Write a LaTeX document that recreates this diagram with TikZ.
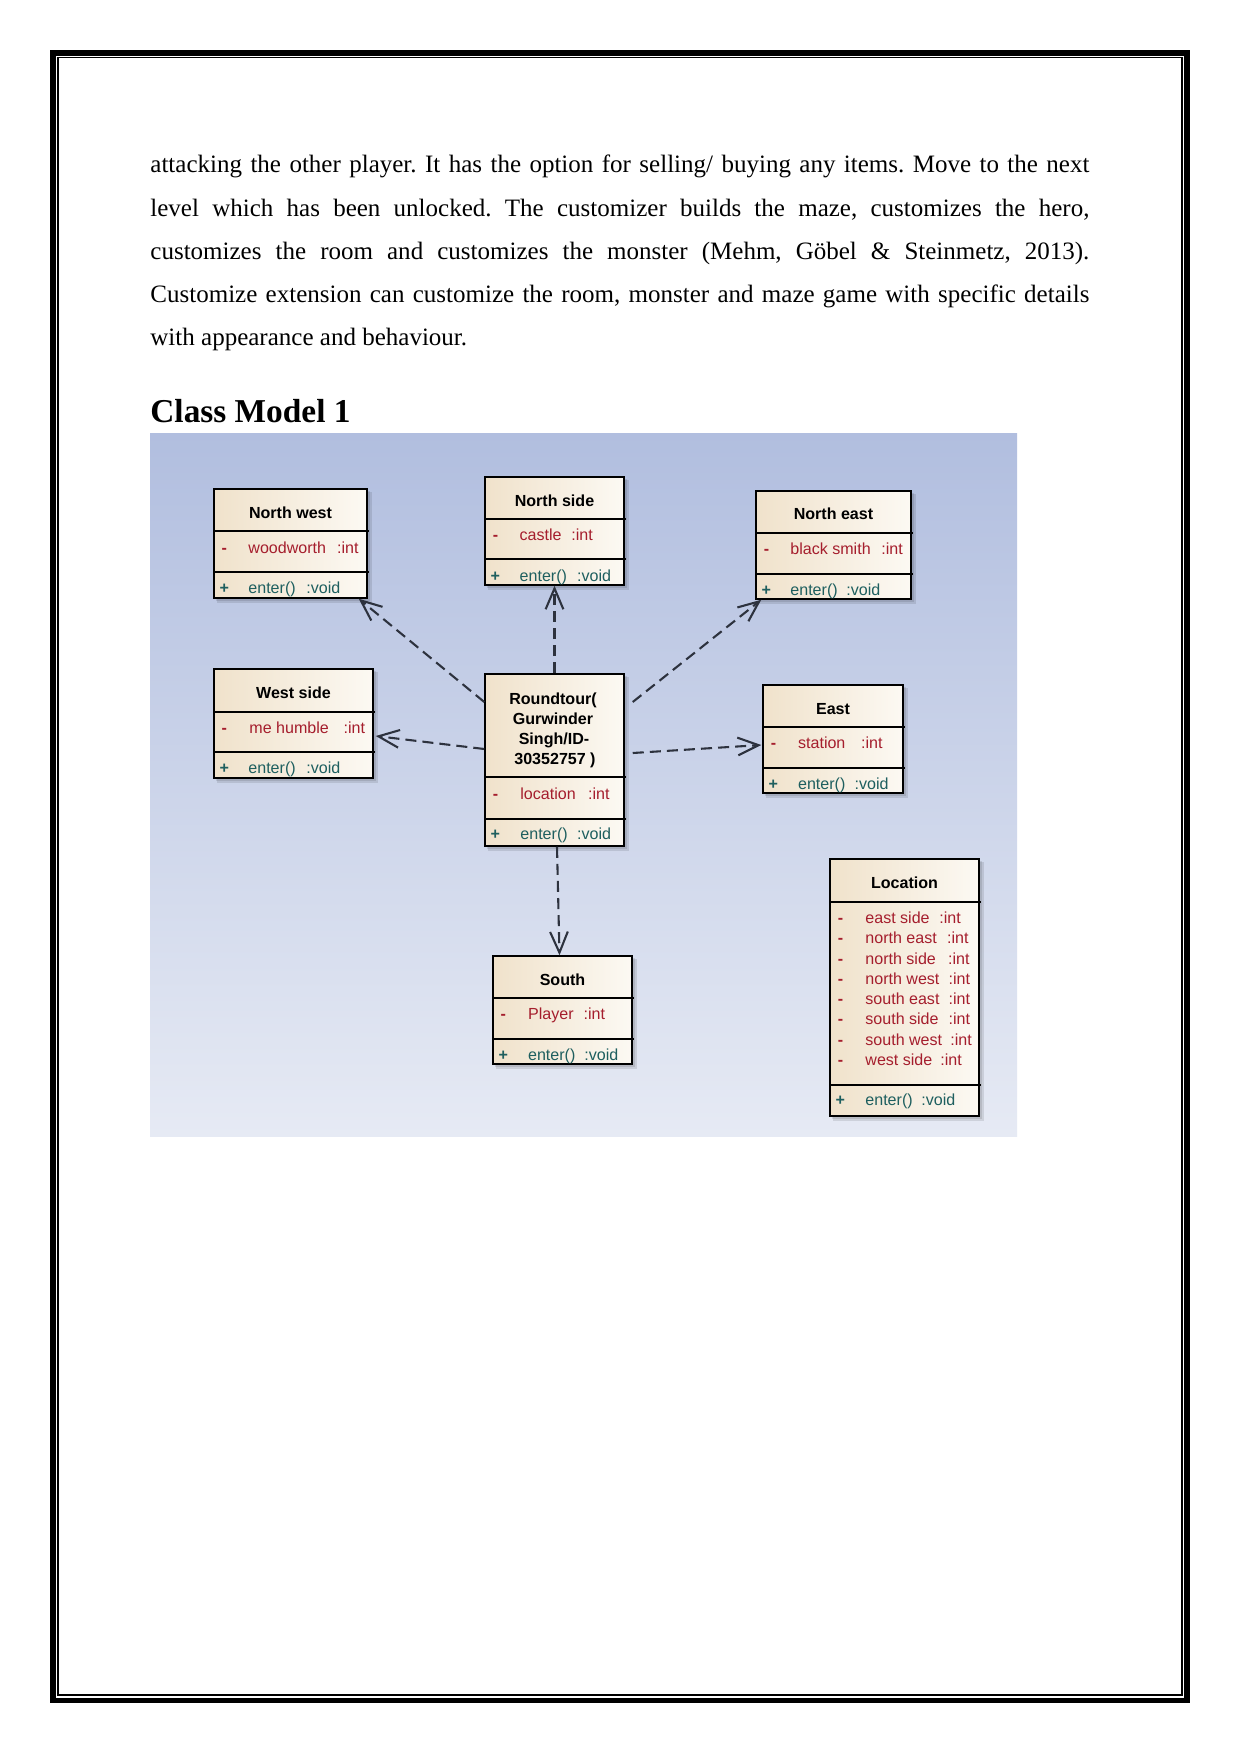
\documentclass[tikz,border=0pt]{standalone}
\usepackage{fontspec}
\setmainfont{Liberation Serif}
\newfontfamily\umlfont{Liberation Sans}
\usetikzlibrary{arrows.meta,calc,fit}
\frenchspacing
\newdimen\pxu \pxu=0.4797pt
\definecolor{bgtop}{RGB}{177,190,223}
\definecolor{bgbot}{RGB}{230,234,244}
\definecolor{boxL}{RGB}{240,226,203}
\definecolor{boxR}{RGB}{252,249,243}
\definecolor{attrred}{RGB}{165,30,45}
\definecolor{opteal}{RGB}{30,95,95}
\definecolor{conn}{RGB}{45,50,62}
\tikzset{
  cls/.style={draw=black, line width=0.7pt, left color=boxL, right color=boxR, inner sep=0pt},
  divider/.style={draw=black, line width=0.7pt},
  boxshadow/.style={fill=black, opacity=0.10},
  hdr/.style={font=\umlfont\bfseries\fontsize{7.7}{9.5}\selectfont, anchor=base, inner sep=0pt},
  rowtxt/.style={font=\umlfont\fontsize{7.7}{9.5}\selectfont, anchor=base west, inner sep=0pt},
  para/.style={font=\fontsize{12}{14}\selectfont, anchor=base west, inner sep=0pt},
  dep/.style={draw=conn, line width=1pt, dash pattern=on 5.3pt off 2.9pt,
    -{Straight Barb[length=10pt,width=8.5pt,line width=1pt]}},
}
% #1 name, #2 x0, #3 baseline, #4 colour, #5 marker, #6 name x, #7 text, #8 type x, #9 type
\newcommand\umlrow[9]{%
  \node[rowtxt, text=#4] (#1) at (#2,#3) {\rlap{\makebox[6\pxu][c]{\bfseries #5}}\hspace*{\dimexpr #6\pxu-#2\pxu\relax}\rlap{#7}\hspace*{\dimexpr #8\pxu-#6\pxu\relax}#9};}
% #1 name, #2 x1, #3 y1, #4 x2, #5 y2
\newcommand\classbox[5]{%
  \fill[boxshadow] (#2+2,#3+2) rectangle (#4+3,#5+3);
  \fill[boxshadow] (#2+3,#3+3) rectangle (#4+5,#5+5);
  \node[cls, fit={(#2,#3) (#4,#5)}] (#1) {};}
\newcommand\divline[3]{\draw[divider] (#1,#3) -- (#2+2,#3);}
\begin{document}
\begin{tikzpicture}[x=0.4797pt, y=-0.4797pt]
\useasboundingbox (0,0) rectangle (1241,1754);
\fill[white] (0,0) rectangle (1241,1754);
% page border
\draw[line width=2.73pt] (52.8,52.8) rectangle (1187,1700.5);
\draw[line width=0.62pt] (58,57.3) rectangle (1182,1695);
% paragraph
\node[para] (p1) at (150,173) {\makebox[939\pxu][s]{attacking the other player. It has the option for selling/ buying any items. Move to the next}};
\node[para] (p2) at (150,216) {\makebox[939\pxu][s]{level which has been unlocked. The customizer builds the maze, customizes the hero,}};
\node[para] (p3) at (150,259) {\makebox[939\pxu][s]{customizes the room and customizes the monster (Mehm, Göbel \& Steinmetz, 2013).}};
\node[para] (p4) at (150,302) {\makebox[939\pxu][s]{Customize extension can customize the room, monster and maze game with specific details}};
\node[para] (p5) at (150,345) {with appearance and behaviour.};
\node[para, font=\bfseries\fontsize{16}{19}\selectfont] (title) at (150,422) {Class Model 1};
% diagram background
\shade[top color=bgtop, bottom color=bgbot] (150,433) rectangle (1017,1136);

% North west
\classbox{nw}{214}{489}{367}{598}
\divline{214}{367}{531}\divline{214}{367}{572}
\node[hdr] (nwh) at (290.5,518) {North west};
\umlrow{nwa}{221}{553}{attrred}{-}{248}{woodworth}{336.7}{:int}
\umlrow{nwo}{221}{593}{opteal}{+}{248}{enter()}{306}{:void}

% North side
\classbox{ns}{485}{477}{624}{585}
\divline{485}{624}{519}\divline{485}{624}{559}
\node[hdr] (nsh) at (554.5,506) {North side};
\umlrow{nsa}{492}{540}{attrred}{-}{519.3}{castle}{571}{:int}
\umlrow{nso}{492}{581}{opteal}{+}{519.3}{enter()}{576.7}{:void}

% North east
\classbox{ne}{756}{491}{911}{599}
\divline{756}{911}{533}\divline{756}{911}{574}
\node[hdr] (neh) at (833.5,519) {North east};
\umlrow{nea}{763}{554}{attrred}{-}{790}{black smith}{881}{:int}
\umlrow{neo}{763}{595}{opteal}{+}{790}{enter()}{846}{:void}

% West side
\classbox{ws}{214}{669}{373}{778}
\divline{214}{373}{712}\divline{214}{373}{752}
\node[hdr] (wsh) at (293.5,698) {West side};
\umlrow{wsa}{221}{733}{attrred}{-}{249}{me humble}{343.3}{:int}
\umlrow{wso}{221}{773}{opteal}{+}{248}{enter()}{306}{:void}

% Roundtour
\classbox{rt}{485}{674}{624}{846}
\divline{485}{624}{777}\divline{485}{624}{819}
\node[hdr] (rth1) at (553,704) {Roundtour(};
\node[hdr] (rth2) at (553,724) {Gurwinder};
\node[hdr] (rth3) at (554,744) {Singh/ID-};
\node[hdr] (rth4) at (555,764) {30352757 )};
\umlrow{rta}{492}{799}{attrred}{-}{520}{location}{587.7}{:int}
\umlrow{rto}{492}{839}{opteal}{+}{520}{enter()}{576.7}{:void}

% East
\classbox{ea}{763}{685}{903}{793}
\divline{763}{903}{727}\divline{763}{903}{768}
\node[hdr] (eah) at (833,714) {East};
\umlrow{eaa}{770}{748}{attrred}{-}{797.7}{station}{860.7}{:int}
\umlrow{eao}{770}{789}{opteal}{+}{797.7}{enter()}{854.3}{:void}

% South
\classbox{so}{493}{956}{632}{1064}
\divline{493}{632}{998}\divline{493}{632}{1039}
\node[hdr] (soh) at (562.5,985) {South};
\umlrow{soa}{500}{1019}{attrred}{-}{527.7}{Player}{583.3}{:int}
\umlrow{soo}{500}{1060}{opteal}{+}{527.7}{enter()}{584}{:void}

% Location
\classbox{lo}{830}{859}{979}{1116}
\divline{830}{979}{902}\divline{830}{979}{1085}
\node[hdr] (loh) at (904.5,888) {Location};
\umlrow{loa1}{837}{923}{attrred}{-}{865}{east side}{939}{:int}
\umlrow{loa2}{837}{943}{attrred}{-}{865}{north east}{946.7}{:int}
\umlrow{loa3}{837}{964}{attrred}{-}{865}{north side}{947.7}{:int}
\umlrow{loa4}{837}{984}{attrred}{-}{865}{north west}{948.3}{:int}
\umlrow{loa5}{837}{1004}{attrred}{-}{865}{south east}{948.3}{:int}
\umlrow{loa6}{837}{1024}{attrred}{-}{865}{south side}{948.3}{:int}
\umlrow{loa7}{837}{1045}{attrred}{-}{865}{south west}{950}{:int}
\umlrow{loa8}{837}{1065}{attrred}{-}{865}{west side}{940}{:int}
\umlrow{loo}{837}{1105}{opteal}{+}{865}{enter()}{921}{:void}

% dependencies
\draw[dep] ($(rt.west)+(0,-58)$) -- ($(nw.south east)+(-9,0)$);
\draw[dep] (rt.north) -- (ns.south);
\draw[dep] ($(rt.east)+(8,-58)$) -- ($(ne.south west)+(6,0)$);
\draw[dep] ($(rt.west)+(0,-11)$) -- ($(ws.east)+(2,12.5)$);
\draw[dep] ($(rt.east)+(8,-7)$) -- ($(ea.west)+(-1,6)$);
\draw[dep] ($(rt.south)+(2.5,0)$) -- ($(so.north)+(-3,0)$);
\end{tikzpicture}
\end{document}
